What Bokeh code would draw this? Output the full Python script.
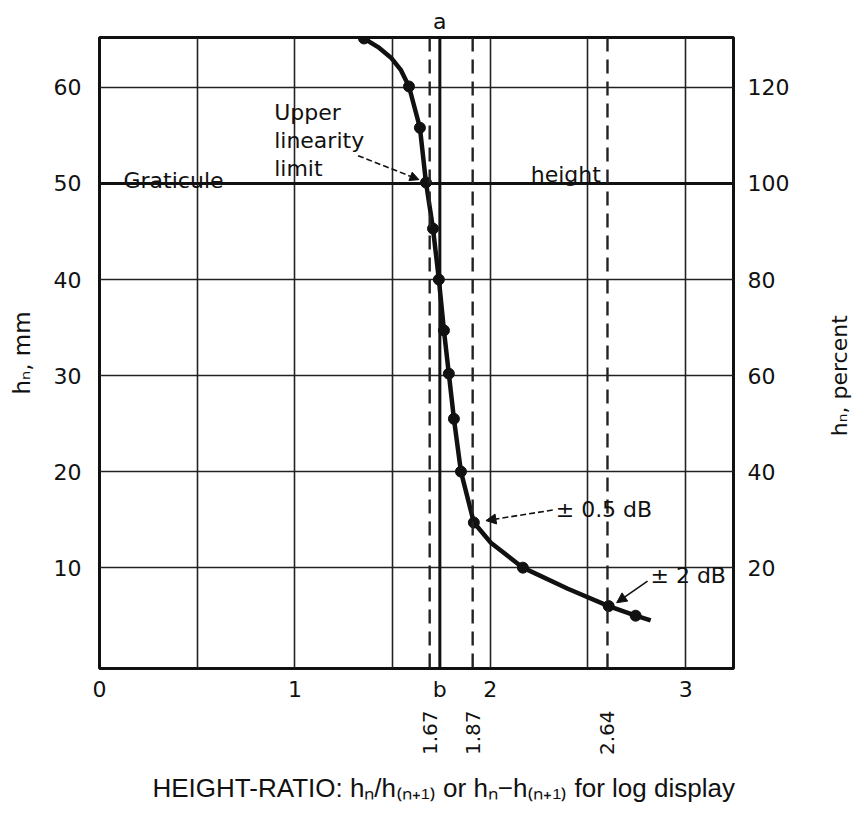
import math
from bokeh.plotting import figure
from bokeh.layouts import row
from bokeh.core.properties import value
from bokeh.models import (Range1d, LinearAxis, FixedTicker, Span, Label, Arrow,
                          NormalHead, ColumnDataSource, Title)
from bokeh.embed import file_html
from bokeh.resources import INLINE

# ---- data ----
# measured points on the characteristic (height ratio, h_n in mm)
ratio_pts = [1.354, 1.584, 1.640, 1.671, 1.707, 1.737, 1.763, 1.788, 1.814,
             1.850, 1.916, 2.167, 2.606, 2.744]
height_pts = [65.1, 60.1, 55.8, 50.1, 45.3, 40.0, 34.7, 30.2, 25.5,
              20.0, 14.7, 10.0, 6.0, 5.0]
# traced curve through the points (with extra points)
curve_ratio = [1.354, 1.426, 1.492, 1.543, 1.584, 1.640, 1.671, 1.707, 1.737,
               1.763, 1.788, 1.814, 1.850, 1.916, 2.003, 2.167, 2.397, 2.606,
               2.744, 2.821]
curve_height = [65.1, 64.2, 63.1, 61.8, 60.1, 55.8, 50.1, 45.3, 40.0,
                34.7, 30.2, 25.5, 20.0, 14.7, 12.6, 10.0, 7.8, 6.0,
                5.0, 4.5]

x_ticks = [0, 1, 2, 3]
x_grid = [0.5, 1, 1.5, 2, 2.5, 3]
y_ticks_mm = [10, 20, 30, 40, 50, 60]
y_ticks_pct = [20, 40, 60, 80, 100, 120]
graticule_height = 50
ideal_ratio = 1.742          # line a-b
limit_ratio = [1.69, 1.91, 2.60]
limit_labels = ["1.67", "1.87", "2.64"]

FONT = "DejaVu Sans"
INK = "#111111"
W_SIDE = 36

p = figure(width=857 - W_SIDE, height=815, x_range=Range1d(0, 3.245), y_range=Range1d(-0.5, 65.2),
           output_backend="svg", toolbar_location=None,
           min_border_left=99, min_border_right=88, min_border_top=37, min_border_bottom=147)
p.extra_y_ranges = {"pct": Range1d(-1.0, 130.4)}
p.background_fill_color = "white"
p.border_fill_color = "white"
p.outline_line_color = INK
p.outline_line_width = 3

# grid
p.xgrid.ticker = FixedTicker(ticks=x_grid)
p.ygrid.ticker = FixedTicker(ticks=y_ticks_mm)
for g in (p.xgrid, p.ygrid):
    g.grid_line_color = "#222222"
    g.grid_line_width = 1.6
    g.grid_line_alpha = 1.0


def style_axis(ax, size="22px"):
    ax.axis_line_color = None
    ax.major_tick_line_color = None
    ax.minor_tick_line_color = None
    ax.major_tick_out = 0
    ax.major_tick_in = 0
    ax.major_label_text_font = FONT
    ax.major_label_text_font_size = size
    ax.major_label_text_color = INK
    ax.axis_label_text_font = FONT
    ax.axis_label_text_font_style = "normal"
    ax.axis_label_text_font_size = "23px"
    ax.axis_label_text_color = INK


# bottom axis (0..3 and b)
xa = p.xaxis[0]
xa.ticker = FixedTicker(ticks=x_ticks + [ideal_ratio])
xa.major_label_overrides = {ideal_ratio: "b"}
style_axis(xa)
xa.major_label_standoff = 8

# second bottom axis with the limit values, vertical labels
xa2 = LinearAxis(ticker=FixedTicker(ticks=limit_ratio))
xa2.major_label_overrides = {v: t for v, t in zip(limit_ratio, limit_labels)}
style_axis(xa2, "20px")
xa2.major_label_orientation = math.pi / 2
xa2.major_label_standoff = 6
p.add_layout(xa2, "below")

# x title, below the axes
xtitle = Title(text="HEIGHT-RATIO: hₙ/h₍ₙ₊₁₎ or hₙ−h₍ₙ₊₁₎ for log display",
               align="left", offset=53, text_font="Liberation Sans",
               text_font_size="26px", text_font_style="normal", text_color=INK)
if "standoff" in xtitle.properties():
    xtitle.standoff = 24
p.add_layout(xtitle, "below")

# top axis: only the "a" end of the ideal line
xt = LinearAxis(ticker=FixedTicker(ticks=[ideal_ratio]))
xt.major_label_overrides = {ideal_ratio: "a"}
style_axis(xt)
xt.major_label_standoff = 4
p.add_layout(xt, "above")

# left axis (mm)
ya = p.yaxis[0]
ya.ticker = FixedTicker(ticks=y_ticks_mm)
style_axis(ya)
ya.major_label_standoff = 18
ya.axis_label = "hₙ, mm"
ya.axis_label_standoff = 16

# right axis (percent) - tick labels here, title in the side strip
yr = LinearAxis(y_range_name="pct", ticker=FixedTicker(ticks=y_ticks_pct))
style_axis(yr)
yr.major_label_standoff = 14
p.add_layout(yr, "right")

# graticule height line
p.add_layout(Span(location=graticule_height, dimension="width", line_color=INK, line_width=3))
# ideal ratio line a-b
p.add_layout(Span(location=ideal_ratio, dimension="height", line_color=INK, line_width=3))
# limit dashed lines
for v in limit_ratio:
    p.add_layout(Span(location=v, dimension="height", line_color="#222222",
                      line_width=2.4, line_dash="14 8"))

# characteristic
src_c = ColumnDataSource(dict(x=curve_ratio, y=curve_height))
p.line("x", "y", source=src_c, line_color=INK, line_width=4.5, line_join="round")
src_p = ColumnDataSource(dict(x=ratio_pts, y=height_pts))
p.scatter("x", "y", source=src_p, size=11, fill_color=INK, line_color=INK)


# texts
def lab(x, y, text, baseline="alphabetic", align="left", size="22px", font=FONT):
    p.add_layout(Label(x=x, y=y, text=text, text_font=font, text_font_size=size,
                       text_color=INK, text_baseline=baseline, text_align=align))


lab(0.894, 57.4, "Upper")
lab(0.894, 54.5, "linearity")
lab(0.894, 51.6, "limit")
lab(0.123, 50.35, "Graticule")
lab(2.207, 50.9, "height")
lab(2.335, 16.1, "± 0.5 dB", baseline="middle")
lab(2.82, 9.2, "± 2 dB", baseline="middle")

# arrows
p.add_layout(Arrow(x_start=1.323, y_start=52.9, x_end=1.635, y_end=50.4,
                   line_color=INK, line_width=1.6, line_dash="6 3",
                   end=NormalHead(size=9, fill_color=INK, line_color=INK)))
p.add_layout(Arrow(x_start=2.320, y_start=16.0, x_end=1.978, y_end=14.9,
                   line_color=INK, line_width=1.6, line_dash="6 3",
                   end=NormalHead(size=10, fill_color=INK, line_color=INK)))
p.add_layout(Arrow(x_start=2.805, y_start=8.6, x_end=2.647, y_end=6.35,
                   line_color=INK, line_width=1.6,
                   end=NormalHead(size=10, fill_color=INK, line_color=INK)))

# narrow side strip carrying the right-hand axis title (reads bottom to top)
side = figure(width=W_SIDE, height=815, output_backend="svg", toolbar_location=None,
              x_range=Range1d(0, 1), y_range=Range1d(0, 1),
              min_border_left=0, min_border_right=0,
              min_border_top=37, min_border_bottom=147)
side.outline_line_color = None
side.background_fill_color = "white"
side.border_fill_color = "white"
side.xgrid.visible = False
side.ygrid.visible = False
side.xaxis.visible = False
side.yaxis.visible = False
side.text(x=[0.5], y=[0.464], text=["hₙ, percent"], angle=math.pi / 2,
          text_align="center", text_baseline="middle", text_font=value(FONT),
          text_font_size="22px", text_color=INK)

layout = row(p, side, spacing=0)
open("out.html", "w").write(file_html(layout, INLINE))
